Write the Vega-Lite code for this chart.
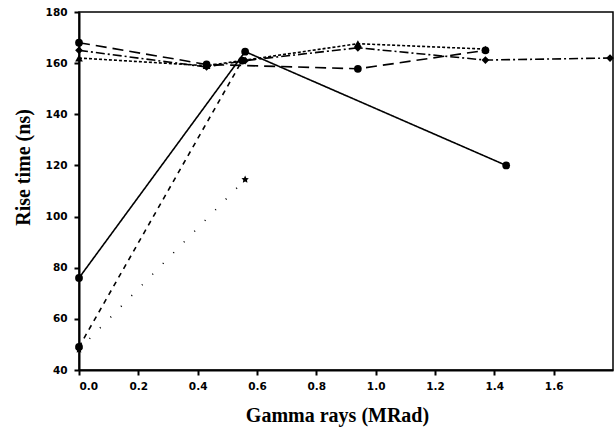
{
  "$schema": "https://vega.github.io/schema/vega-lite/v6.json",
  "width": 534,
  "height": 358,
  "autosize": {"type": "none"},
  "padding": {"left": 79, "top": 12, "right": 3, "bottom": 70},
  "background": "white",
  "config": {
    "view": {"stroke": "black", "strokeWidth": 1.5},
    "axis": {
      "grid": false,
      "domainColor": "black",
      "domainWidth": 2,
      "tickColor": "black",
      "tickWidth": 2,
      "tickSize": 5,
      "labelColor": "black",
      "labelFont": "DejaVu Sans",
      "labelFontWeight": "bold",
      "labelFontSize": 10.5,
      "titleColor": "black",
      "titleFont": "Liberation Serif",
      "titleFontWeight": "bold",
      "titleFontSize": 20
    }
  },
  "data": {
    "values": [
      {"series": "A", "x": 0.0, "y": 76},
      {"series": "A", "x": 0.56, "y": 164.5},
      {"series": "A", "x": 1.44, "y": 120},
      {"series": "B", "x": 0.0, "y": 49},
      {"series": "B", "x": 0.55, "y": 161},
      {"series": "C", "x": 0.0, "y": 48},
      {"series": "C", "x": 0.56, "y": 114.5},
      {"series": "D", "x": 0.0, "y": 168},
      {"series": "D", "x": 0.43, "y": 159.5},
      {"series": "D", "x": 0.94, "y": 157.8},
      {"series": "D", "x": 1.37, "y": 165},
      {"series": "E", "x": 0.0, "y": 165},
      {"series": "E", "x": 0.43, "y": 158.5},
      {"series": "E", "x": 0.56, "y": 161},
      {"series": "E", "x": 0.94, "y": 166},
      {"series": "E", "x": 1.37, "y": 161.2},
      {"series": "E", "x": 1.79, "y": 162},
      {"series": "F", "x": 0.0, "y": 162},
      {"series": "F", "x": 0.43, "y": 159},
      {"series": "F", "x": 0.94, "y": 167.6},
      {"series": "F", "x": 1.37, "y": 165.5}
    ]
  },
  "layer": [
    {
      "mark": {"type": "line", "color": "black", "strokeWidth": 1.6},
      "encoding": {
        "x": {
          "field": "x", "type": "quantitative",
          "scale": {"domain": [0, 1.8], "nice": false},
          "axis": {
            "values": [0, 0.2, 0.4, 0.6, 0.8, 1.0, 1.2, 1.4, 1.6],
            "format": ".1f",
            "title": "Gamma rays (MRad)",
            "titlePadding": 14,
            "titleX": 258,
            "labelPadding": 6
          }
        },
        "y": {
          "field": "y", "type": "quantitative",
          "scale": {"domain": [40, 180], "nice": false},
          "axis": {
            "values": [40, 60, 80, 100, 120, 140, 160, 180],
            "title": "Rise time (ns)",
            "titleY": 155,
            "titlePadding": 12,
            "labelPadding": 7
          }
        },
        "detail": {"field": "series"},
        "strokeDash": {
          "field": "series", "type": "nominal", "legend": null,
          "scale": {
            "domain": ["A", "B", "C", "D", "E", "F"],
            "range": [[1, 0], [5, 5], [1, 14], [11, 6], [9, 3, 2, 3], [3, 2]]
          }
        },
        "opacity": {
          "field": "series", "type": "nominal", "legend": null,
          "scale": {"domain": ["A", "B", "C", "D", "E", "F"], "range": [1, 1, 0.35, 1, 1, 1]}
        }
      }
    },
    {
      "mark": {"type": "point", "filled": true, "color": "black", "size": 60, "opacity": 1},
      "encoding": {
        "x": {"field": "x", "type": "quantitative"},
        "y": {"field": "y", "type": "quantitative"},
        "shape": {
          "field": "series", "type": "nominal", "legend": null,
          "scale": {
            "domain": ["A", "B", "C", "D", "E", "F"],
            "range": ["circle", "circle", "M0,-1L0.29,-0.4L0.95,-0.31L0.48,0.15L0.59,0.81L0,0.5L-0.59,0.81L-0.48,0.15L-0.95,-0.31L-0.29,-0.4Z", "circle", "diamond", "triangle-up"]
          }
        },
        "size": {
          "field": "series", "type": "nominal", "legend": null,
          "scale": {"domain": ["A", "B", "C", "D", "E", "F"], "range": [60, 60, 110, 55, 60, 60]}
        }
      }
    }
  ]
}
